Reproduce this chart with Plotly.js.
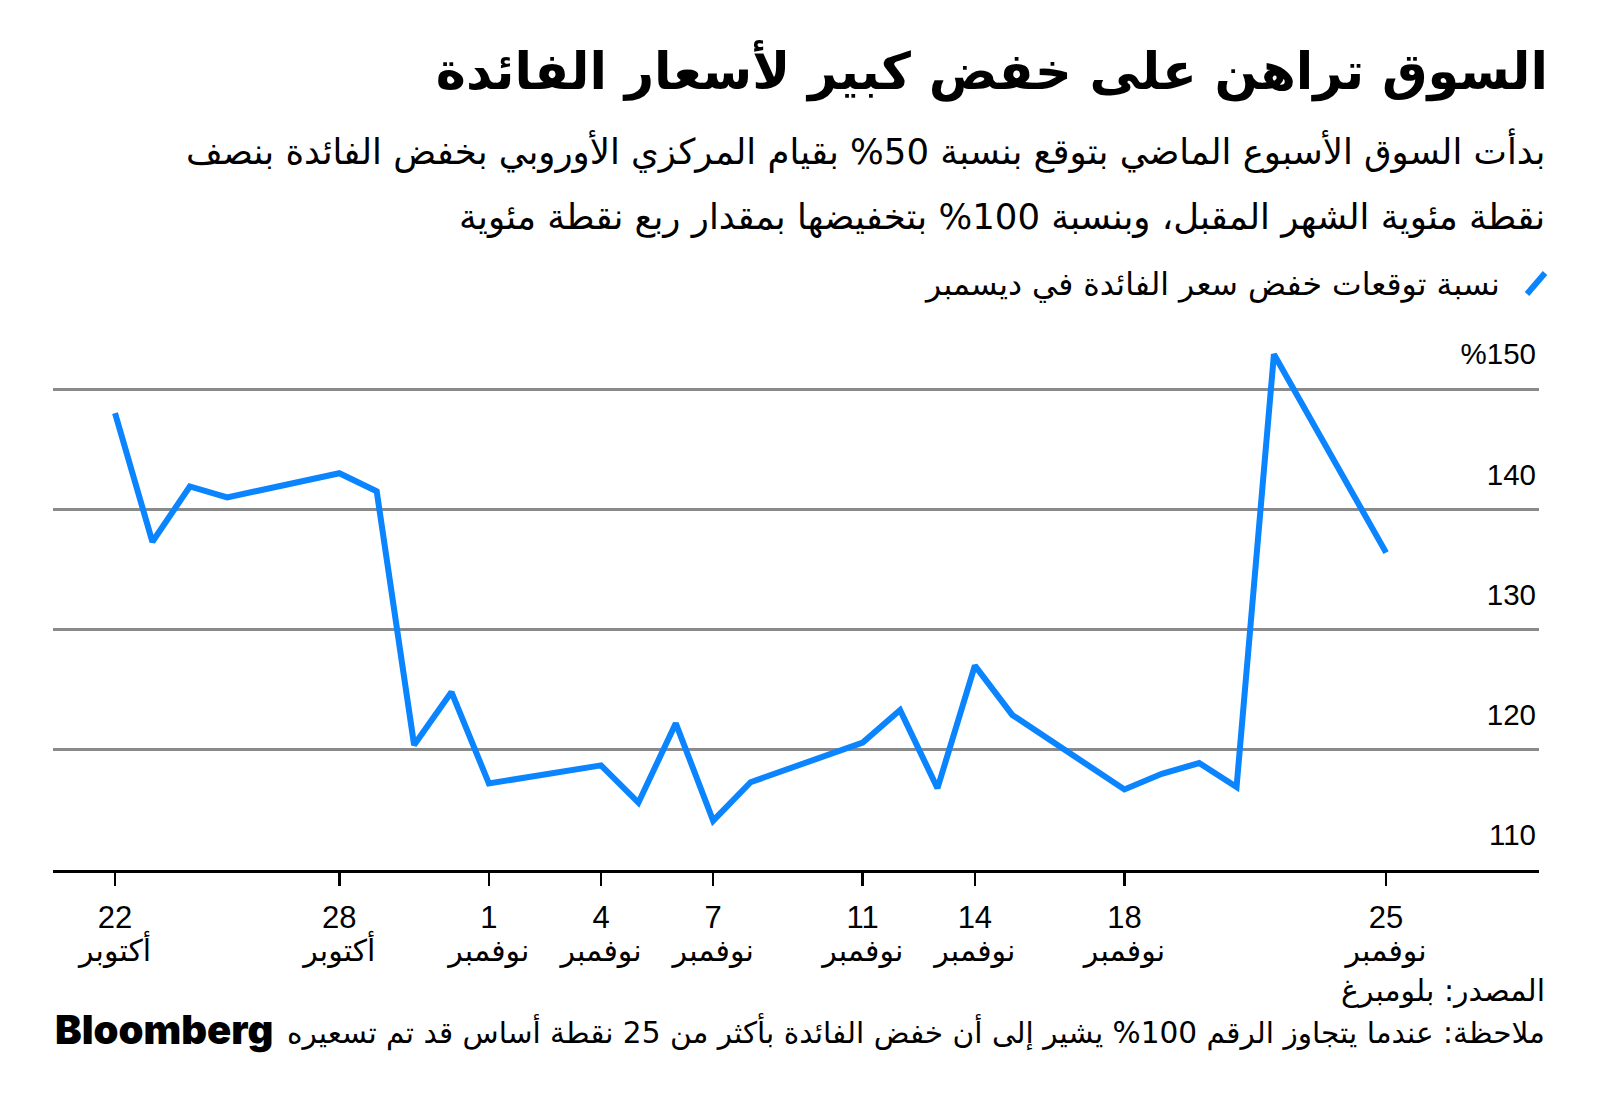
<!DOCTYPE html>
<html>
<head>
<meta charset="utf-8">
<script src="https://cdn.plot.ly/plotly-3.0.1.min.js"></script>
<style>
  html, body { margin: 0; padding: 0; background: #fff; }
  #chart { width: 1600px; height: 1106px; }
</style>
</head>
<body>
<div id="chart"></div>
<script>
// ---- data ----
const dates = ['2024-10-22','2024-10-23','2024-10-24','2024-10-25','2024-10-28','2024-10-29','2024-10-30','2024-10-31',
  '2024-11-01','2024-11-04','2024-11-05','2024-11-06','2024-11-07','2024-11-08','2024-11-11','2024-11-12','2024-11-13',
  '2024-11-14','2024-11-15','2024-11-18','2024-11-19','2024-11-20','2024-11-21','2024-11-22','2024-11-25'];
const values = [148.0,137.3,141.9,141.0,143.0,141.5,120.4,124.8,
  117.2,118.7,115.6,122.2,114.1,117.3,120.6,123.3,116.8,
  127.0,122.9,116.7,118.0,118.9,116.9,152.9,136.4];
const seriesName = 'نسبة توقعات خفض سعر الفائدة في ديسمبر';

const tickDates = ['2024-10-22','2024-10-28','2024-11-01','2024-11-04','2024-11-07','2024-11-11','2024-11-14','2024-11-18','2024-11-25'];
const tickDays = ['22','28','1','4','7','11','14','18','25'];
const tickMonths = ['أكتوبر','أكتوبر','نوفمبر','نوفمبر','نوفمبر','نوفمبر','نوفمبر','نوفمبر','نوفمبر'];
const yTicks = [110,120,130,140,150];
const yTickLabels = ['110','120','130','140','%150'];

const titleText = 'السوق تراهن على خفض كبير لأسعار الفائدة';
const subtitle1 = 'بدأت السوق الأسبوع الماضي بتوقع بنسبة 50% بقيام المركزي الأوروبي بخفض الفائدة بنصف';
const subtitle2 = 'نقطة مئوية الشهر المقبل، وبنسبة 100% بتخفيضها بمقدار ربع نقطة مئوية';
const sourceText = 'المصدر: بلومبرغ';
const noteText = 'ملاحظة: عندما يتجاوز الرقم 100% يشير إلى أن خفض الفائدة بأكثر من 25 نقطة أساس قد تم تسعيره';
const logoText = 'Bloomberg';

const AR = 'DejaVu Sans, sans-serif';
const LAT = 'Liberation Sans, Arial, sans-serif';
const BLUE = '#0a84ff';

const traces = [
  {x: dates, y: values, type: 'scatter', mode: 'lines', name: seriesName,
   line: {color: BLUE, width: 6, shape: 'linear'}, showlegend: false, hoverinfo: 'skip'},
  {x: dates, y: values, type: 'scatter', mode: 'lines', xaxis: 'x2', yaxis: 'y',
   line: {color: 'rgba(0,0,0,0)', width: 0}, showlegend: false, hoverinfo: 'skip'}
];

const L = 53, R = 1539, T = 329, B = 870;
const px = v => (v - L) / (R - L);
const py = v => (B - v) / (B - T);

const layout = {
  width: 1600, height: 1106,
  margin: {l: L, r: 1600 - R, t: T, b: 1106 - B, pad: 0},
  paper_bgcolor: '#fff', plot_bgcolor: '#fff',
  showlegend: false,
  title: {text: '<b>' + titleText + '</b>', font: {family: AR, size: 51, color: '#000'},
          xref: 'container', x: 1548/1600, xanchor: 'right', yref: 'container', y: 1 - 71/1106, yanchor: 'middle'},
  xaxis: {type: 'date', range: ['2024-10-20 08:11', '2024-11-29 02:10'],
          tickmode: 'array', tickvals: tickDates, ticktext: tickDays,
          ticks: 'outside', ticklen: 13, tickwidth: 2.5, tickcolor: '#000', ticklabelstandoff: 5,
          showline: true, linecolor: '#000', linewidth: 3, showgrid: false, zeroline: false,
          tickfont: {family: LAT, size: 31, color: '#000'},
          fixedrange: true},
  xaxis2: {type: 'date', overlaying: 'x', matches: 'x', anchor: 'y', side: 'bottom',
          tickmode: 'array', tickvals: tickDates, ticktext: tickMonths,
          ticks: '', showline: false, showgrid: false, zeroline: false, ticklabelstandoff: 60,
          tickfont: {family: AR, size: 30, color: '#000'}},
  yaxis: {range: [110, 155], tickmode: 'array', tickvals: yTicks, ticktext: yTickLabels,
          side: 'right', ticklabelposition: 'inside', ticklabelshift: -35, ticklabelstandoff: 0,
          showgrid: true, gridcolor: '#8a8a8a', gridwidth: 3, zeroline: false, showline: false, ticks: '',
          tickfont: {family: LAT, size: 29.5, color: '#000'},
          fixedrange: true},
  shapes: [
    {type: 'line', xref: 'paper', yref: 'paper', x0: px(1527), y0: py(294), x1: px(1545), y1: py(273),
     line: {color: BLUE, width: 6}}
  ],
  annotations: [
    {text: subtitle1, xref: 'paper', yref: 'paper', x: px(1547), y: py(150), xanchor: 'right', yanchor: 'middle',
     showarrow: false, font: {family: AR, size: 35.5, color: '#000'}},
    {text: subtitle2, xref: 'paper', yref: 'paper', x: px(1547), y: py(217), xanchor: 'right', yanchor: 'middle',
     showarrow: false, font: {family: AR, size: 35.5, color: '#000'}},
    {text: seriesName, xref: 'paper', yref: 'paper', x: px(1502), y: py(284), xanchor: 'right', yanchor: 'middle',
     showarrow: false, font: {family: AR, size: 31.5, color: '#000'}},
    {text: sourceText, xref: 'paper', yref: 'paper', x: px(1547), y: py(990), xanchor: 'right', yanchor: 'middle',
     showarrow: false, font: {family: AR, size: 30, color: '#000'}},
    {text: noteText, xref: 'paper', yref: 'paper', x: px(1547), y: py(1031), xanchor: 'right', yanchor: 'middle',
     showarrow: false, font: {family: AR, size: 29.6, color: '#000'}},
    {text: logoText, xref: 'paper', yref: 'paper', x: px(53), y: py(1029), xanchor: 'left', yanchor: 'middle',
     showarrow: false, font: {family: 'Inter, Liberation Sans, sans-serif', size: 40, weight: 900, color: '#000'}}
  ]
};

Plotly.newPlot('chart', traces, layout, {displayModeBar: false, staticPlot: true});
</script>
</body>
</html>
